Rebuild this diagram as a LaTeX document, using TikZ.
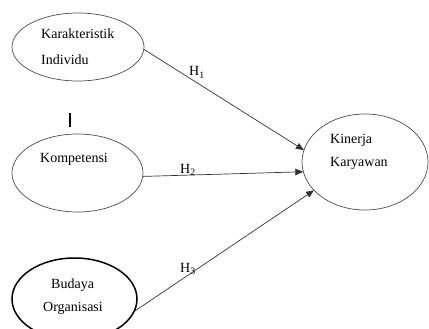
\documentclass[tikz,border=0pt]{standalone}
\usepackage{fontspec}
\setmainfont{Liberation Serif}
\usetikzlibrary{shapes.geometric,arrows.meta}
\begin{document}
\begin{tikzpicture}[x=1pt,y=-1pt,
        var/.style={ellipse,draw=black!70,line width=0.7pt,inner sep=0pt,outer sep=0pt},
        txt/.style={anchor=base west,inner sep=0pt,font=\fontsize{14}{16}\selectfont},
        hyp/.style={draw=black!80,line width=0.7pt,-{Triangle[length=8pt,width=6.5pt]}}]
    \useasboundingbox (0,0) rectangle (429,329);
    \node[var,minimum width=132pt,minimum height=68pt] (ki) at (78,47) {};
    \node[var,minimum width=131pt,minimum height=78pt] (kom) at (77.5,173) {};
    \node[var,draw=black,line width=1.5pt,minimum width=125pt,minimum height=82pt] (bo) at (74.5,299) {};
    \node[var,minimum width=126pt,minimum height=96pt] (kk) at (365,162) {};
    \node[txt] (kit1) at (41,39) {Karakteristik};
    \node[txt] (kit2) at (41,65) {Individu};
    \node[txt] (komt) at (40,162) {Kompetensi};
    \node[txt] (bot1) at (51,288) {Budaya};
    \node[txt] (bot2) at (43,311) {Organisasi};
    \node[txt] (kkt1) at (330,143) {Kinerja};
    \node[txt] (kkt2) at (330,167) {Karyawan};
    \draw[line width=1.5pt] (70,113) -- (70,127);
    \draw[hyp] (ki.-2.6) -- (kk.169);
    \draw[hyp] (kom.-3.6) -- (kk.-171.7);
    \draw[hyp] (bo.-12.5) -- (kk.-151.6);
    \node[txt] (h1) at (189,76) {H\textsubscript{1}};
    \node[txt] (h2) at (180,173) {H\textsubscript{2}};
    \node[txt] (h3) at (180,272) {H\textsubscript{3}};
\end{tikzpicture}
\end{document}
